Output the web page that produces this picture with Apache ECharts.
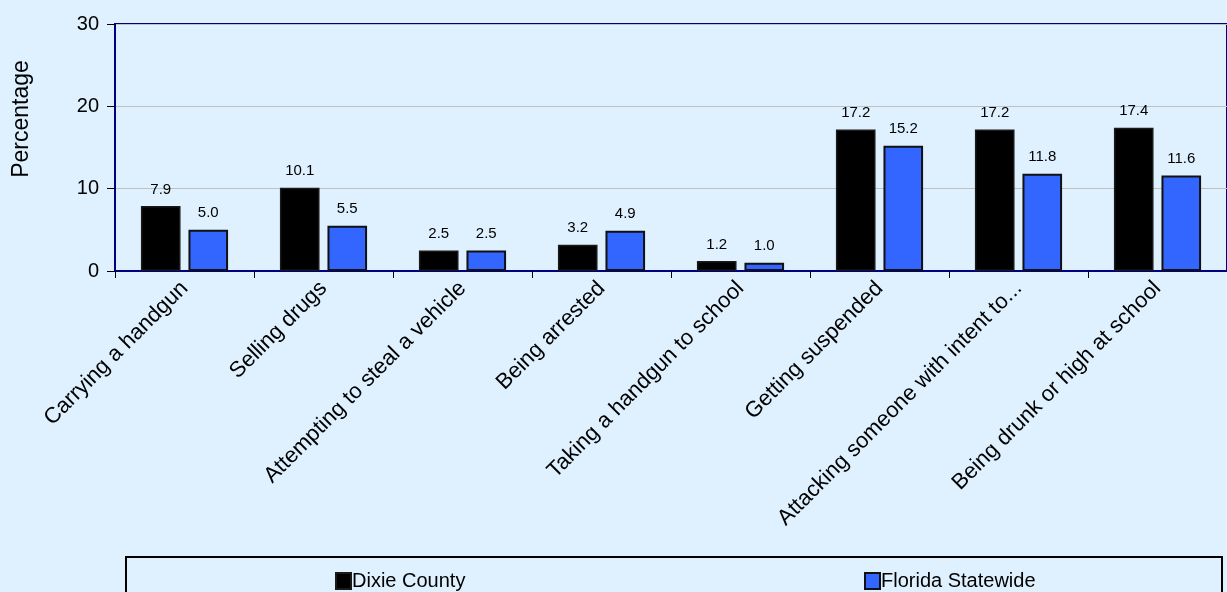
<!DOCTYPE html>
<html>
<head>
<meta charset="utf-8">
<script src="https://cdn.jsdelivr.net/npm/echarts@6/dist/echarts.min.js"></script>
<style>
  html, body { margin: 0; padding: 0; background: #DFF1FF; }
  #chart { width: 1227px; height: 592px; }
</style>
</head>
<body>
<div id="chart"></div>
<script>
// Behaviours and the share of students reporting them
const categories = [
  'Carrying a handgun',
  'Selling drugs',
  'Attempting to steal a vehicle',
  'Being arrested',
  'Taking a handgun to school',
  'Getting suspended',
  'Attacking someone with intent to...',
  'Being drunk or high at school'
];
const dixieCounty = [7.9, 10.1, 2.5, 3.2, 1.2, 17.2, 17.2, 17.4];
const floridaStatewide = [5.0, 5.5, 2.5, 4.9, 1.0, 15.2, 11.8, 11.6];
const yTicks = [0, 10, 20, 30];
const yTitle = 'Percentage';

const FONT = '"Liberation Sans", Arial, sans-serif';
const chart = echarts.init(document.getElementById('chart'), null, { renderer: 'canvas' });

const labelStyle = {
  show: true,
  position: 'top',
  distance: 9,
  color: '#000',
  fontFamily: FONT,
  fontSize: 15,
  formatter: p => p.value.toFixed(1)
};

const legendText = { fontFamily: FONT, fontSize: 20, color: '#000', padding: [0, 0, 0, -4] };

chart.setOption({
  backgroundColor: '#DFF1FF',
  animation: false,
  textStyle: { fontFamily: FONT },
  grid: {
    left: 115, top: 24, width: 1115, height: 247,
    show: true, backgroundColor: 'transparent',
    borderColor: '#000080', borderWidth: 2
  },
  legend: [
    {
      data: ['Dixie County'], left: 330, top: 566,
      icon: 'rect', itemWidth: 15, itemHeight: 16, itemGap: 2,
      textStyle: legendText
    },
    {
      data: ['Florida Statewide'], left: 859, top: 566,
      icon: 'rect', itemWidth: 15, itemHeight: 16, itemGap: 2,
      textStyle: legendText
    }
  ],
  graphic: [
    {
      type: 'rect',
      shape: { x: 126, y: 557, width: 1096, height: 60 },
      style: { fill: 'transparent', stroke: '#000', lineWidth: 2 },
      silent: true
    },
    {
      type: 'text',
      x: 22, y: 119,
      rotation: Math.PI / 2,
      style: {
        text: yTitle, fill: '#000', font: '23px ' + FONT,
        align: 'center', verticalAlign: 'middle'
      },
      silent: true
    }
  ],
  xAxis: {
    type: 'category',
    data: categories,
    axisLine: { lineStyle: { color: '#000080', width: 2 } },
    axisTick: { show: true, length: 7, lineStyle: { color: '#000', width: 1 } },
    axisLabel: {
      interval: 0, rotate: 45, margin: 14,
      color: '#000', fontFamily: FONT, fontSize: 22
    }
  },
  yAxis: {
    type: 'value',
    min: yTicks[0], max: yTicks[yTicks.length - 1], interval: 10,
    axisLine: { show: true, lineStyle: { color: '#000080', width: 2 } },
    axisTick: { show: true, length: 8, lineStyle: { color: '#000', width: 1 } },
    axisLabel: { color: '#000', fontFamily: FONT, fontSize: 20, margin: 16 },
    splitLine: { show: true, lineStyle: { color: '#C0C0C0', width: 1 } }
  },
  series: [
    {
      name: 'Dixie County',
      type: 'bar',
      data: dixieCounty,
      barWidth: '28.5%',
      barGap: '20%',
      itemStyle: { color: '#000000', borderColor: '#1a1a1a', borderWidth: 1.5 },
      label: labelStyle
    },
    {
      name: 'Florida Statewide',
      type: 'bar',
      data: floridaStatewide,
      barWidth: '28.5%',
      itemStyle: { color: '#3366FF', borderColor: '#111', borderWidth: 2 },
      label: labelStyle
    }
  ]
});
</script>
</body>
</html>
